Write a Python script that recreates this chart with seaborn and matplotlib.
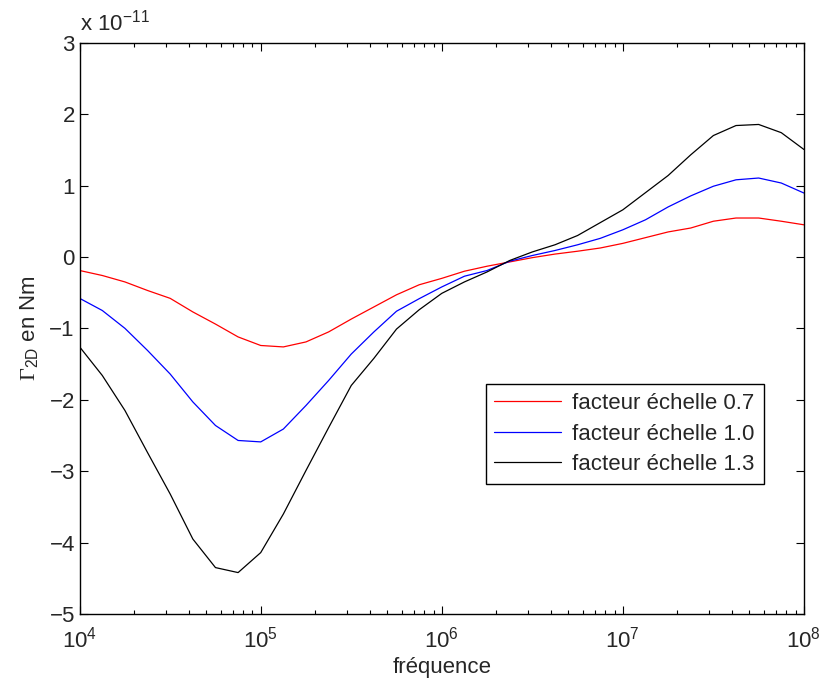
import numpy as np
import pandas as pd
import matplotlib
matplotlib.use("Agg")
import matplotlib.pyplot as plt
import seaborn as sns

# frequencies: 8 points per decade from 1e4 to 1e8
exposants = [4 + k / 8 for k in range(33)]
frequence = [10 ** e for e in exposants]

# torque values, in units of 1e-11 N.m
gamma_07 = [-0.19, -0.26, -0.35, -0.47, -0.58, -0.77, -0.94, -1.12, -1.24, -1.26,
            -1.19, -1.05, -0.87, -0.70, -0.53, -0.39, -0.30, -0.20, -0.13, -0.07,
            -0.01, 0.04, 0.08, 0.125, 0.19, 0.27, 0.35, 0.405, 0.50, 0.545,
            0.545, 0.50, 0.45]
gamma_10 = [-0.58, -0.75, -1.00, -1.31, -1.64, -2.03, -2.36, -2.57, -2.59, -2.41,
            -2.08, -1.73, -1.36, -1.05, -0.76, -0.585, -0.42, -0.27, -0.19, -0.06,
            0.02, 0.09, 0.17, 0.26, 0.38, 0.52, 0.70, 0.855, 0.99, 1.08,
            1.105, 1.035, 0.895]
gamma_13 = [-1.26, -1.66, -2.15, -2.74, -3.32, -3.95, -4.35, -4.42, -4.14, -3.60,
            -2.99, -2.39, -1.80, -1.42, -1.01, -0.74, -0.51, -0.35, -0.21, -0.05,
            0.07, 0.17, 0.30, 0.48, 0.66, 0.90, 1.14, 1.43, 1.70, 1.84,
            1.855, 1.74, 1.505]

labels = ["facteur échelle 0.7", "facteur échelle 1.0", "facteur échelle 1.3"]
couleurs = ["#ff0000", "#0000ff", "#000000"]
y_ticks = [-5, -4, -3, -2, -1, 0, 1, 2, 3]

df = pd.concat([
    pd.DataFrame({"f": frequence, "gamma": g, "serie": lab})
    for g, lab in zip([gamma_07, gamma_10, gamma_13], labels)
])

sns.set_style("ticks")
plt.rcParams["font.family"] = ["Liberation Sans", "DejaVu Sans"]
plt.rcParams["mathtext.fontset"] = "custom"
plt.rcParams["mathtext.rm"] = "Liberation Serif"
plt.rcParams["xtick.direction"] = "in"
plt.rcParams["ytick.direction"] = "in"

fig = plt.figure(figsize=(8.23, 6.82), dpi=100)
ax = fig.add_axes([0.0968, 0.0997, 0.8800, 0.8377])

sns.lineplot(data=df, x="f", y="gamma", hue="serie", palette=couleurs,
             linewidth=0.9, ax=ax, legend=True, estimator=None, sort=False)

ax.set_xscale("log")
ax.set_xlim(1e4, 1e8)
ax.set_ylim(-5, 3)
ax.set_yticks(y_ticks)
ax.set_xticks([1e4, 1e5, 1e6, 1e7, 1e8])

for s in ax.spines.values():
    s.set_linewidth(1.0)
    s.set_color("black")
ax.tick_params(which="both", top=True, right=True, labelsize=16, color="black", width=0.8)
ax.tick_params(which="major", length=5.5)
ax.tick_params(which="minor", length=3)
ax.tick_params(axis="x", which="major", pad=9)

ax.set_xlabel("fréquence", fontsize=16, labelpad=3)
ax.set_ylabel(r"$\Gamma_{\mathdefault{2D}}$ en Nm", fontsize=16, labelpad=6)
ax.text(0.0, 1.012, r"x 10$^{\mathdefault{-11}}$", transform=ax.transAxes,
        fontsize=16, ha="left", va="bottom")

handles, _ = ax.get_legend_handles_labels()
leg = ax.legend(handles=handles, labels=labels, loc="upper left",
                bbox_to_anchor=(0.5605, 0.402), borderaxespad=0, fontsize=16,
                frameon=True, fancybox=False, framealpha=1, edgecolor="black",
                handlelength=3.0, handletextpad=0.5, borderpad=0.4,
                labelspacing=0.42)
leg.get_frame().set_linewidth(1.0)

fig.savefig("out.png", dpi=100)
